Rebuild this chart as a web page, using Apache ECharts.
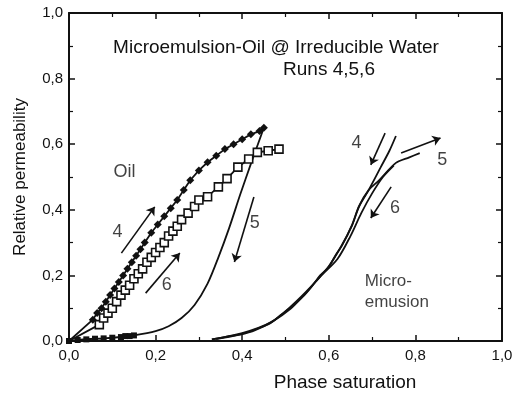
<!DOCTYPE html>
<html>
<head>
<meta charset="utf-8">
<script src="https://cdn.jsdelivr.net/npm/echarts@6/dist/echarts.min.js"></script>
<style>
  html, body { margin: 0; padding: 0; background: #fff; }
  #chart { width: 520px; height: 400px; }
</style>
</head>
<body>
<div id="chart"></div>
<script>
// oil, run 4 (filled diamonds)
const oil4 = [
  [0, 0], [0.055, 0.065], [0.065, 0.085], [0.075, 0.10], [0.085, 0.12], [0.095, 0.14],
  [0.105, 0.16], [0.115, 0.18], [0.125, 0.20], [0.135, 0.22], [0.145, 0.24], [0.155, 0.26],
  [0.165, 0.28], [0.175, 0.30], [0.19, 0.33], [0.205, 0.355], [0.22, 0.38], [0.235, 0.405],
  [0.25, 0.43], [0.265, 0.46], [0.28, 0.49], [0.30, 0.52], [0.32, 0.545], [0.34, 0.565],
  [0.36, 0.585], [0.38, 0.60], [0.40, 0.615], [0.42, 0.63], [0.44, 0.64], [0.45, 0.65]
]
// oil, run 6 (open squares)
const oil6 = [
  [0, 0], [0.07, 0.05], [0.08, 0.07], [0.09, 0.085], [0.10, 0.10], [0.11, 0.12], [0.12, 0.14],
  [0.13, 0.155], [0.14, 0.17], [0.15, 0.19], [0.16, 0.205], [0.17, 0.22], [0.18, 0.24],
  [0.19, 0.255], [0.20, 0.27], [0.21, 0.285], [0.22, 0.30], [0.23, 0.32], [0.24, 0.335],
  [0.25, 0.35], [0.26, 0.37], [0.275, 0.39], [0.29, 0.41], [0.30, 0.43], [0.32, 0.44],
  [0.345, 0.47], [0.365, 0.495], [0.39, 0.53], [0.415, 0.555], [0.435, 0.575],
  [0.46, 0.58], [0.485, 0.585]
]
// oil, run 5 (filled squares near zero, then the line)
const oil5Pts = [
  [0, 0], [0.02, 0.003], [0.04, 0.005], [0.06, 0.007], [0.08, 0.008], [0.10, 0.01],
  [0.12, 0.012], [0.13, 0.015], [0.14, 0.015], [0.15, 0.017]
]
const oil5Line = [
  [0.15, 0.017], [0.2, 0.03], [0.23, 0.045], [0.26, 0.07], [0.29, 0.11], [0.32, 0.175],
  [0.345, 0.255], [0.37, 0.345], [0.395, 0.445], [0.42, 0.54], [0.45, 0.65]
]
// microemulsion, runs 4, 5, 6
const micro4 = [
  [0.33, 0.005], [0.36, 0.012], [0.40, 0.022], [0.43, 0.035], [0.466, 0.055], [0.49, 0.08],
  [0.513, 0.104], [0.54, 0.135], [0.56, 0.165], [0.58, 0.2], [0.6, 0.226], [0.615, 0.26],
  [0.63, 0.29], [0.653, 0.35], [0.67, 0.41], [0.692, 0.46], [0.72, 0.53], [0.74, 0.58],
  [0.755, 0.625]
]
const micro5 = [
  [0.33, 0.005], [0.40, 0.024], [0.466, 0.057], [0.513, 0.106], [0.56, 0.167], [0.6, 0.228],
  [0.63, 0.292], [0.653, 0.352], [0.67, 0.412], [0.692, 0.46], [0.716, 0.49],
  [0.755, 0.543], [0.786, 0.56], [0.81, 0.573]
]
const micro6 = [
  [0.34, 0.006], [0.43, 0.033], [0.513, 0.10], [0.58, 0.196], [0.62, 0.25], [0.65, 0.32],
  [0.675, 0.39], [0.70, 0.45], [0.725, 0.50], [0.75, 0.535]
]
// arrows: [x tail, y tail, x head, y head]
const arrows = [
  [0.121, 0.268, 0.198, 0.409],
  [0.177, 0.146, 0.256, 0.268],
  [0.427, 0.439, 0.382, 0.241],
  [0.73, 0.634, 0.697, 0.537],
  [0.767, 0.573, 0.858, 0.619],
  [0.744, 0.47, 0.697, 0.375]
]
// text notes: [text, x, y]
const notes = [
  ['Oil', 0.128, 0.515],
  ['4', 0.112, 0.332],
  ['6', 0.226, 0.171],
  ['5', 0.429, 0.36],
  ['4', 0.664, 0.604],
  ['5', 0.862, 0.552],
  ['6', 0.753, 0.405]
]

const ink = '#111'
const font = 'Liberation Sans'
const fmt = v => v.toFixed(1).replace('.', ',')

const chart = echarts.init(document.getElementById('chart'), null, { renderer: 'canvas' })

function axisBase() {
  return {
    type: 'value',
    min: 0,
    max: 1,
    interval: 0.2,
    axisLine: { show: true, onZero: false, lineStyle: { color: ink, width: 2 } },
    axisTick: { show: true, inside: true, length: 6, lineStyle: { color: ink, width: 1.5 } },
    minorTick: { show: true, splitNumber: 2, length: 4, lineStyle: { color: ink, width: 1.2 } },
    splitLine: { show: false }
  }
}

const option = {
  animation: false,
  backgroundColor: '#fff',
  grid: { left: 69, right: 18, top: 13, bottom: 59 },
  xAxis: [
    Object.assign(axisBase(), {
      position: 'bottom',
      axisLabel: { formatter: fmt, fontFamily: font, fontSize: 15, color: ink, margin: 7 }
    }),
    Object.assign(axisBase(), { position: 'top', axisLabel: { show: false } })
  ],
  yAxis: [
    Object.assign(axisBase(), {
      position: 'left',
      name: 'Relative permeability',
      nameLocation: 'middle',
      nameGap: 40,
      nameTextStyle: { fontFamily: font, fontSize: 17, color: ink },
      axisLabel: { formatter: fmt, fontFamily: font, fontSize: 15, color: ink, margin: 6 }
    }),
    Object.assign(axisBase(), { position: 'right', axisLabel: { show: false } })
  ],
  graphic: [
    {
      type: 'text',
      style: {
        x: 276, y: 48, text: 'Microemulsion-Oil @ Irreducible Water',
        font: '19px "Liberation Sans"', fill: ink, textAlign: 'center', textVerticalAlign: 'middle'
      }
    },
    {
      type: 'text',
      style: {
        x: 329, y: 70, text: 'Runs 4,5,6',
        font: '19px "Liberation Sans"', fill: ink, textAlign: 'center', textVerticalAlign: 'middle'
      }
    },
    {
      type: 'text',
      style: {
        x: 345, y: 383, text: 'Phase saturation',
        font: '19px "Liberation Sans"', fill: ink, textAlign: 'center', textVerticalAlign: 'middle'
      }
    }
  ],
  series: [
    {
      name: 'oil4',
      type: 'line',
      data: oil4.map((p, i) => (i === 0 ? { value: p, symbol: 'none' } : p)),
      symbol: 'diamond',
      symbolSize: 8,
      itemStyle: { color: ink },
      lineStyle: { color: ink, width: 1.8 }
    },
    {
      name: 'oil6',
      type: 'line',
      data: oil6.map((p, i) => (i === 0 ? { value: p, symbol: 'none' } : p)),
      symbol: 'rect',
      symbolSize: 8,
      itemStyle: { color: '#fff', borderColor: ink, borderWidth: 1.6 },
      lineStyle: { color: ink, width: 1.8 }
    },
    {
      name: 'oil5pts',
      type: 'line',
      data: oil5Pts,
      symbol: 'rect',
      symbolSize: 6,
      itemStyle: { color: ink },
      lineStyle: { color: ink, width: 2 }
    },
    {
      name: 'oil5',
      type: 'line',
      data: oil5Line,
      smooth: 0.3,
      showSymbol: false,
      lineStyle: { color: ink, width: 1.8 }
    },
    {
      name: 'micro4',
      type: 'line',
      data: micro4,
      smooth: 0.3,
      showSymbol: false,
      lineStyle: { color: ink, width: 1.8 }
    },
    {
      name: 'micro5',
      type: 'line',
      data: micro5,
      smooth: 0.3,
      showSymbol: false,
      lineStyle: { color: ink, width: 1.8 }
    },
    {
      name: 'micro6',
      type: 'line',
      data: micro6,
      smooth: 0.3,
      showSymbol: false,
      lineStyle: { color: ink, width: 1.8 }
    },
    {
      name: 'notes',
      type: 'scatter',
      symbolSize: 1,
      itemStyle: { color: 'transparent' },
      label: {
        show: true,
        position: 'inside',
        formatter: '{b}',
        fontFamily: font,
        fontSize: 18,
        color: ink
      },
      data: notes.map(n => ({ name: n[0], value: [n[1], n[2]] })).concat([{
        name: 'Micro-\nemusion',
        value: [0.683, 0.149],
        label: { align: 'left', fontSize: 17, lineHeight: 21 }
      }]),
      markLine: {
        silent: true,
        symbol: ['none', 'arrow'],
        symbolSize: 8,
        label: { show: false },
        lineStyle: { color: ink, width: 1.6, type: 'solid' },
        data: arrows.map(a => [{ coord: [a[0], a[1]] }, { coord: [a[2], a[3]] }])
      }
    }
  ]
}

chart.setOption(option)
</script>
</body>
</html>
